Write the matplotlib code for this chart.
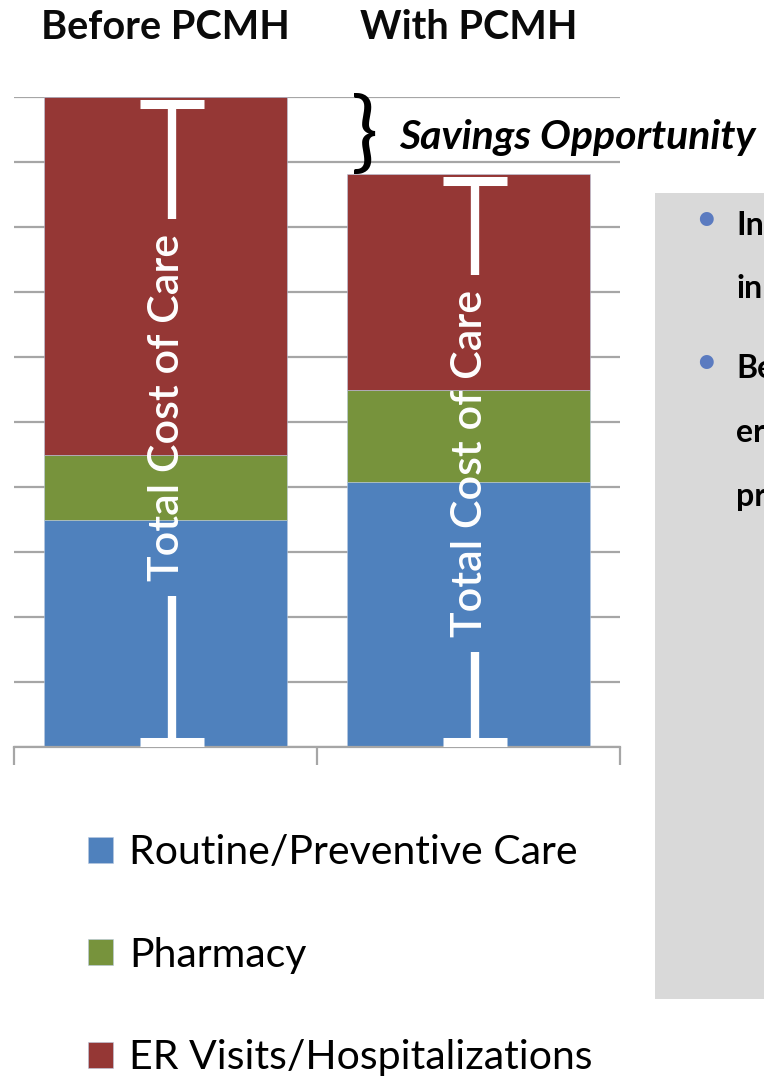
import numpy as np
import matplotlib
matplotlib.use("Agg")
import matplotlib.pyplot as plt
import matplotlib.transforms as mtransforms
from matplotlib.patches import Rectangle

plt.rcParams['font.family'] = ['Lato', 'DejaVu Sans']

# data (arbitrary cost units, gridlines every 1)
scenarios = ["Before PCMH", "With PCMH"]
routine = [3.5, 4.07]
pharmacy = [1.0, 1.42]
er_hosp = [5.5, 3.32]
series_names = ["Routine/Preventive Care", "Pharmacy", "ER Visits/Hospitalizations"]
series_colors = ["#4F81BD", "#77933C", "#953735"]
label_y = [5.22, 4.36]   # centre of the "Total Cost of Care" label in each bar
bullet_lines = [["In", "in"], ["Be", "er", "pr"]]

W, H = 764, 1076
fig = plt.figure(figsize=(W / 100, H / 100), dpi=100)
ax = fig.add_axes([14 / W, (H - 747) / H, 606 / W, 650 / H])

x = np.arange(len(scenarios))
bottoms = np.zeros(len(scenarios))
handles = []
for vals, name, col in zip([routine, pharmacy, er_hosp], series_names, series_colors):
    b = ax.bar(x, vals, width=0.8, bottom=bottoms, color=col, edgecolor="#B9C9E0",
               linewidth=0.4, label=name, zorder=2)
    handles.append(b)
    bottoms = bottoms + np.array(vals)
totals = bottoms

ax.set_xlim(-0.5, 1.5)
ax.set_ylim(0, 10)
ax.set_yticks(np.arange(0, 11, 1))
ax.yaxis.grid(True, color="#A6A6A6", linewidth=1.6)
ax.set_axisbelow(True)
ax.tick_params(axis="y", length=0, labelleft=False)
ax.set_xticks([])
ax.set_xticks([-0.5, 0.5, 1.5], minor=True)
ax.tick_params(axis="x", which="minor", length=13, width=1.6, color="#A6A6A6")
for s in ["left", "right", "top"]:
    ax.spines[s].set_visible(False)
ax.spines["bottom"].set_color("#A6A6A6")
ax.spines["bottom"].set_linewidth(1.6)

# column titles on top
trans = mtransforms.blended_transform_factory(ax.transData, ax.transAxes)
for xi, name in zip(x, scenarios):
    ax.text(xi, 1.0892, name, transform=trans, ha="center", va="baseline",
            fontsize=28.5, fontweight="bold", color="#0A0A0A")

# white dimension lines with the label
for xi, tot, ly in zip(x, totals, label_y):
    bx = xi + 0.021
    top = tot - 0.1
    ax.plot([bx, bx], [top, ly + 2.9], color="white", lw=6, solid_capstyle="butt", zorder=3)
    ax.plot([bx, bx], [0.07, ly - 2.9], color="white", lw=6, solid_capstyle="butt", zorder=3)
    for yy in [top, 0.07]:
        ax.plot([bx - 0.105, bx + 0.105], [yy, yy], color="white", lw=6.5,
                solid_capstyle="butt", zorder=3)
    ax.text(xi + 0.005, ly, "Total Cost of Care", rotation=90, ha="center", va="center",
            color="white", fontsize=31, fontweight="semibold", zorder=4)

# savings brace
mid = (totals[0] + totals[1]) / 2
ax.text(0.657, mid, "}", ha="center", va="center", fontsize=65, color="black",
        clip_on=False, zorder=5)
ax.text(0.77, mid - 0.2, "Savings Opportunity", ha="left", va="baseline",
        fontsize=29.5, fontweight="bold", fontstyle="italic", clip_on=False, zorder=5)

# legend
leg = fig.legend(handles=handles, loc="upper left", bbox_to_anchor=(88 / W, 1 - 834 / H),
                 frameon=False, fontsize=29.5, handlelength=0.6, handleheight=0.6,
                 handletextpad=0.4, labelspacing=1.6, borderpad=0, borderaxespad=0)

# grey text panel on the right
fig.patches.append(Rectangle((655 / W, (H - 999) / H), 120 / W, 806 / H,
                             transform=fig.transFigure, facecolor="#D9D9D9",
                             edgecolor="none", zorder=0))
baselines = [[235, 298], [378, 442, 506]]
for lines, ys in zip(bullet_lines, baselines):
    fig.text(706 / W, 1 - (ys[0] - 16) / H, "\u2022", ha="center", va="center",
             fontsize=27, color="#5B7BC0")
    for txt, yb in zip(lines, ys):
        fig.text(736 / W, 1 - yb / H, txt, ha="left", va="baseline", fontsize=23,
                 fontweight="bold", color="black")

fig.savefig("out.png", dpi=100)
